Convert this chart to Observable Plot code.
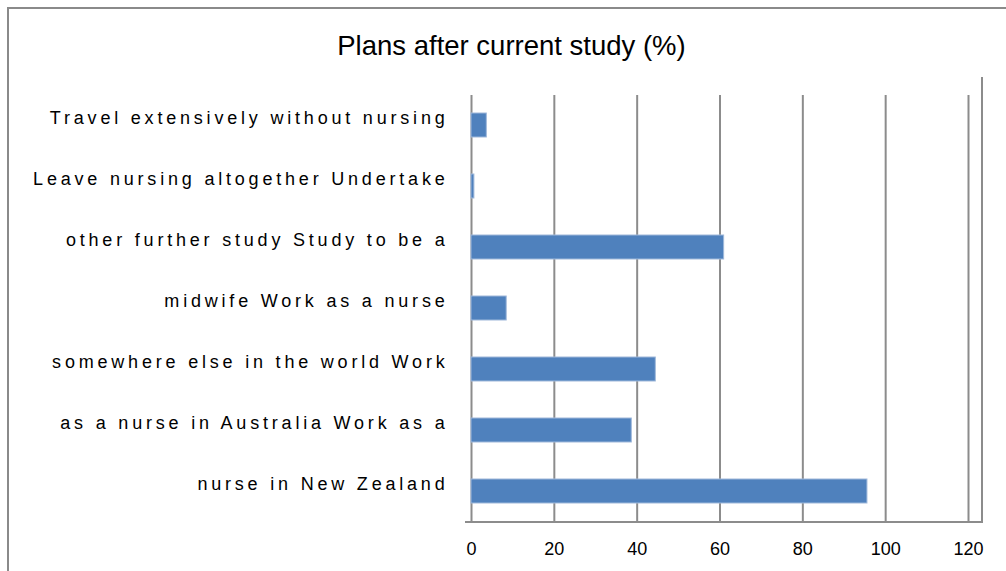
<!DOCTYPE html>
<html>
<head>
<meta charset="utf-8">
<script src="https://cdn.jsdelivr.net/npm/d3@7"></script>
<script src="https://cdn.jsdelivr.net/npm/@observablehq/plot@0.6"></script>
<style>
  html, body { margin: 0; padding: 0; background: #fff; overflow: hidden; }
  #wrap { position: relative; width: 1006px; height: 571px; overflow: hidden; font-family: "Liberation Sans", Arial, sans-serif; }
  #border { position: absolute; left: 7px; top: 7px; width: 1020px; height: 600px; border: 2px solid #8a8a8a; box-sizing: border-box; }
  #title { position: absolute; left: 0; top: 32px; width: 1023px; text-align: center; font-size: 27.5px; line-height: 27px; color: #000; }
  #chart { position: absolute; left: 0; top: 0; }
  #chart g[aria-label="y-axis tick label"] text { letter-spacing: 3.8px; }
</style>
</head>
<body>
<div id="wrap">
  <div id="border"></div>
  <div id="chart"></div>
  <div id="title">Plans after current study (%)</div>
</div>
<script>
const categories = [
  "Travel extensively without nursing",
  "Leave nursing altogether Undertake",
  "other further study Study to be a",
  "midwife Work as a nurse",
  "somewhere else in the world Work",
  "as a nurse in Australia Work as a",
  "nurse in New Zealand"
];
const values = [3.7, 0.7, 61, 8.5, 44.5, 38.7, 95.6];
const xTicks = [0, 20, 40, 60, 80, 100, 120];

const data = categories.map((c, i) => ({category: c, value: values[i]}));

const chart = Plot.plot({
  width: 1006,
  height: 571,
  marginTop: 95,
  marginBottom: 49,
  marginLeft: 471,
  marginRight: 38,
  style: {fontFamily: "Liberation Sans, Arial, sans-serif", fontSize: "18px", background: "transparent", color: "#000", overflow: "visible"},
  x: {domain: [0, 120], ticks: xTicks},
  y: {domain: categories, paddingInner: 0.6, paddingOuter: 0.3},
  marks: [
    Plot.ruleX(xTicks, {stroke: "#8c8c8c", strokeWidth: 2, strokeOpacity: 1}),
    Plot.barX(data, {x: "value", y: "category", fill: "#4F81BD", stroke: "#9fb8da", strokeWidth: 1}),
    Plot.axisX({ticks: xTicks, tickSize: 0, tickPadding: 20, fontSize: 18, label: null}),
    Plot.axisY({tickSize: 0, tickPadding: 23, fontSize: 18, dy: -7, label: null})
  ]
});
document.getElementById("chart").appendChild(chart);

// axis frame lines (baseline and back-right edge) drawn from the x scale
const xs = chart.scale("x");
const x0 = xs.apply(0), x120 = xs.apply(120);
const svg = d3.select(chart);
const g = svg.append("g").attr("stroke", "#8c8c8c").attr("stroke-width", 2).attr("fill", "none");
const bottom = 571 - 49;
g.append("line").attr("x1", x0 - 6).attr("x2", x120 + 14).attr("y1", bottom).attr("y2", bottom);
g.append("line").attr("x1", x120 + 14).attr("x2", x120 + 14).attr("y1", 77).attr("y2", bottom + 1);
</script>
</body>
</html>
